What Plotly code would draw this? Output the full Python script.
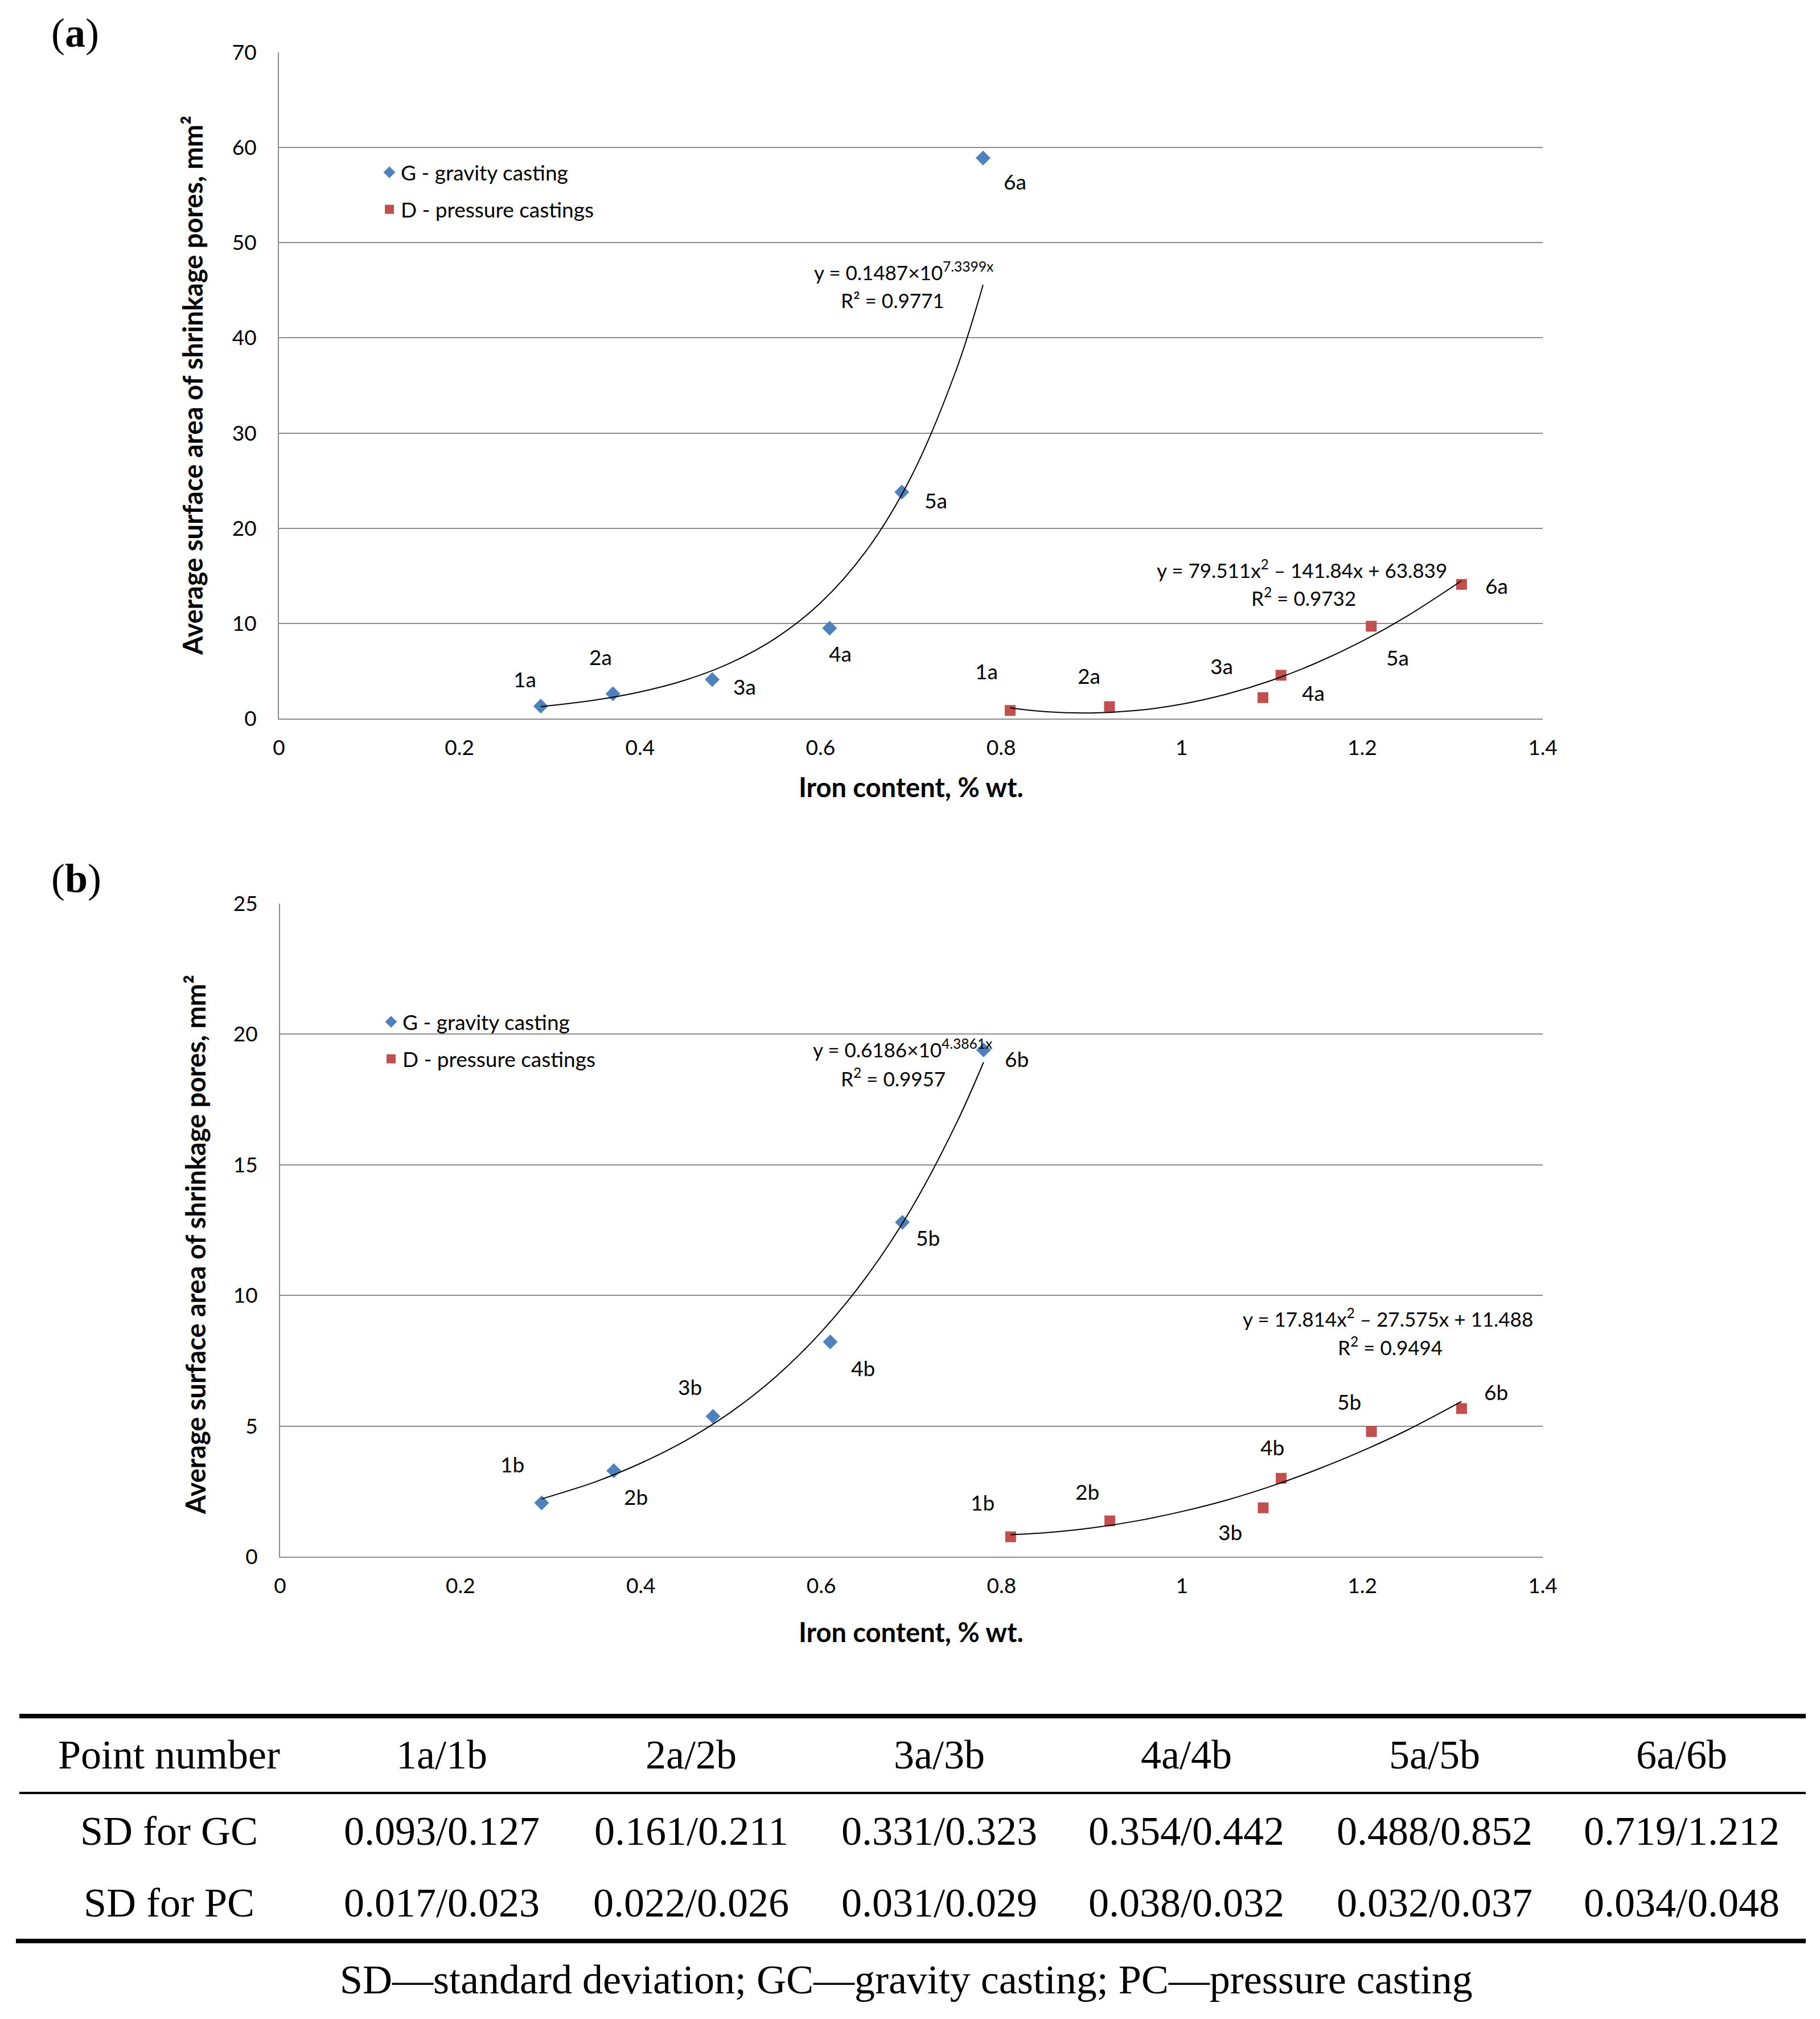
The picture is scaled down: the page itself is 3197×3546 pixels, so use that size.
#!/usr/bin/env python3
"""Shrinkage pore area vs. iron content, two panels plus SD table."""

import plotly.graph_objects as go
from plotly.subplots import make_subplots

W, H = 3197, 3546
PAGE_OFFSET = 8  # browser body margin

# ---- data -------------------------------------------------------------
IRON_G = [0.29, 0.37, 0.48, 0.61, 0.69, 0.78]
IRON_D = [0.81, 0.92, 1.09, 1.11, 1.21, 1.31]

AREA_A_G = [1.3, 2.6, 4.1, 9.5, 23.8, 58.9]
AREA_A_D = [0.85, 1.25, 2.2, 4.55, 9.7, 14.1]
AREA_B_G = [2.06, 3.29, 5.37, 8.22, 12.8, 19.4]
AREA_B_D = [0.76, 1.37, 1.87, 3.0, 4.79, 5.67]

LABELS_A = ['1a', '2a', '3a', '4a', '5a', '6a']
LABELS_B = ['1b', '2b', '3b', '4b', '5b', '6b']

# trendlines
TREND_X_G = [0.29, 0.35, 0.40, 0.45, 0.50, 0.55, 0.60, 0.65, 0.70, 0.75, 0.78]
TREND_X_D = [0.81, 0.85, 0.90, 0.95, 1.00, 1.05, 1.10, 1.15, 1.20, 1.25, 1.31]
TREND_A_G = [1.25, 1.94, 2.80, 4.04, 5.84, 8.43, 12.16, 17.55, 25.34, 36.57, 45.57]
TREND_A_D = [1.12, 0.72, 0.59, 0.85, 1.51, 2.57, 4.02, 5.88, 8.13, 10.78, 14.48]
TREND_B_G = [2.21, 2.87, 3.58, 4.45, 5.54, 6.90, 8.60, 10.71, 13.33, 16.60, 18.93]
TREND_B_D = [0.84, 0.92, 1.10, 1.37, 1.73, 2.17, 2.71, 3.34, 4.05, 4.85, 5.94]

EQ_A_G = ['y = 0.1487×10<sup>7.3399x</sup>', 'R² = 0.9771']
EQ_A_D = ['y = 79.511x<sup>2</sup> – 141.84x + 63.839', 'R<sup>2</sup> = 0.9732']
EQ_B_G = ['y = 0.6186×10<sup>4.3861x</sup>', 'R<sup>2</sup> = 0.9957']
EQ_B_D = ['y = 17.814x<sup>2</sup> – 27.575x + 11.488', 'R<sup>2</sup> = 0.9494']

X_TITLE = 'Iron content, % wt.'
Y_TITLE = 'Average surface area of shrinkage pores, mm²'

TABLE_HEADER = ['Point number', '1a/1b', '2a/2b', '3a/3b', '4a/4b', '5a/5b', '6a/6b']
SD_GC = ['SD for GC', '0.093/0.127', '0.161/0.211', '0.331/0.323', '0.354/0.442',
         '0.488/0.852', '0.719/1.212']
SD_PC = ['SD for PC', '0.017/0.023', '0.022/0.026', '0.031/0.029', '0.038/0.032',
         '0.032/0.037', '0.034/0.048']
FOOTNOTE = 'SD—standard deviation; GC—gravity casting; PC—pressure casting'

# ---- styling ----------------------------------------------------------
BLUE = '#4f81bd'
RED = '#c0504d'
GRID = '#8c8c8c'
SANS = 'Lato, Carlito, Calibri, sans-serif'
SERIF = 'Liberation Serif, Times New Roman, serif'
FS = 37
EQ_FS = 35
TITLE_FS = 47
TABLE_FS = 72

# pixel offsets of the point labels relative to their points
SHIFT_A_G = [(-28, 48), (-22, 65), (57, -12), (19, -44), (60, -14), (56, -41)]
SHIFT_A_D = [(-41, 69), (-36, 55), (-72, 56), (57, -31), (46, -55), (62, -2)]
SHIFT_B_G = [(-51, 68), (39, -45), (-40, 52), (58, -46), (45, -27), (58, -16)]
SHIFT_B_D = [(-49, 61), (-40, 52), (-58, -42), (-16, 55), (-39, 53), (61, 29)]


def px_x(p):
    return (p - PAGE_OFFSET) / W


def px_y(p):
    return 1 - (p - PAGE_OFFSET) / H


fig = make_subplots(rows=2, cols=1)


def add_panel(row, g_vals, d_vals, tg, td, legend):
    fig.add_trace(go.Scatter(
        x=IRON_G, y=g_vals, mode='markers', name='G - gravity casting',
        marker=dict(symbol='diamond', size=20, color=BLUE),
        legend=legend, legendgroup=legend + 'g',
    ), row=row, col=1)
    fig.add_trace(go.Scatter(
        x=IRON_D, y=d_vals, mode='markers', name='D - pressure castings',
        marker=dict(symbol='square', size=19, color=RED),
        legend=legend, legendgroup=legend + 'd',
    ), row=row, col=1)
    fig.add_trace(go.Scatter(
        x=TREND_X_G, y=tg, mode='lines', line=dict(color='black', width=2, shape='spline'),
        showlegend=False, hoverinfo='skip',
    ), row=row, col=1)
    fig.add_trace(go.Scatter(
        x=TREND_X_D, y=td, mode='lines', line=dict(color='black', width=2, shape='spline'),
        showlegend=False, hoverinfo='skip',
    ), row=row, col=1)


add_panel(1, AREA_A_G, AREA_A_D, TREND_A_G, TREND_A_D, 'legend')
add_panel(2, AREA_B_G, AREA_B_D, TREND_B_G, TREND_B_D, 'legend2')

annotations = []


def point_labels(xref, yref, xs, ys, labels, shifts):
    for x, y, t, (dx, dy) in zip(xs, ys, labels, shifts):
        annotations.append(dict(
            x=x, y=y, xref=xref, yref=yref, text=t, showarrow=False,
            xshift=dx, yshift=dy, font=dict(family=SANS, size=FS, color='black'),
        ))


point_labels('x', 'y', IRON_G, AREA_A_G, LABELS_A, SHIFT_A_G)
point_labels('x', 'y', IRON_D, AREA_A_D, LABELS_A, SHIFT_A_D)
point_labels('x2', 'y2', IRON_G, AREA_B_G, LABELS_B, SHIFT_B_G)
point_labels('x2', 'y2', IRON_D, AREA_B_D, LABELS_B, SHIFT_B_D)


def equation(xref, yref, lines, pos):
    for t, (x, y) in zip(lines, pos):
        annotations.append(dict(
            x=x, y=y, xref=xref, yref=yref, text=t, showarrow=False,
            font=dict(family=SANS, size=EQ_FS, color='black'),
        ))


equation('x', 'y', EQ_A_G, [(0.692, 47.0), (0.680, 44.0)])
equation('x', 'y', EQ_A_D, [(1.133, 15.75), (1.135, 12.8)])
equation('x2', 'y2', EQ_B_G, [(0.690, 19.47), (0.680, 18.35)])
equation('x2', 'y2', EQ_B_D, [(1.228, 9.15), (1.231, 8.06)])

# axis titles
title_font = dict(family=SANS, size=TITLE_FS, color='black', weight='bold')
for xpx, ypx in [(1600, 1382), (1600, 2866)]:
    annotations.append(dict(
        x=px_x(xpx), y=px_y(ypx), xref='paper', yref='paper', text=X_TITLE,
        showarrow=False, xanchor='center', yanchor='middle', font=title_font,
    ))
for xpx, ypx in [(338, 677), (343, 2186)]:
    annotations.append(dict(
        x=px_x(xpx), y=px_y(ypx), xref='paper', yref='paper', text=Y_TITLE,
        showarrow=False, xanchor='center', yanchor='middle', textangle=-90,
        font=title_font,
    ))

# panel letters
for txt, ypx in [('(<b>a</b>)', 58), ('(<b>b</b>)', 1543)]:
    annotations.append(dict(
        x=px_x(88), y=px_y(ypx), xref='paper', yref='paper', text=txt,
        showarrow=False, xanchor='left', yanchor='middle',
        font=dict(family=SERIF, size=72, color='black'),
    ))

# table below the charts
COL_X = [297, 776, 1214, 1650, 2084, 2520, 2954]
ROW_Y = [3082, 3216, 3342]
for row_vals, ypx in zip([TABLE_HEADER, SD_GC, SD_PC], ROW_Y):
    for txt, xpx in zip(row_vals, COL_X):
        annotations.append(dict(
            x=px_x(xpx), y=px_y(ypx), xref='paper', yref='paper', text=txt,
            showarrow=False, xanchor='center', yanchor='middle',
            font=dict(family=SERIF, size=TABLE_FS, color='black'),
        ))
annotations.append(dict(
    x=px_x(1592), y=px_y(3477), xref='paper', yref='paper', text=FOOTNOTE,
    showarrow=False, xanchor='center', yanchor='middle',
    font=dict(family=SERIF, size=TABLE_FS, color='black'),
))

shapes = []
for ypx, lw, x0 in [(3014, 8, 34), (3149, 4, 34), (3409, 8, 28)]:
    shapes.append(dict(
        type='line', xref='paper', yref='paper',
        x0=px_x(x0), x1=px_x(3172), y0=px_y(ypx), y1=px_y(ypx),
        line=dict(color='black', width=lw),
    ))

axis_font = dict(family=SANS, size=FS, color='black')

fig.update_xaxes(
    range=[0, 1.4], dtick=0.2, showgrid=False, zeroline=False,
    showline=True, linecolor=GRID, linewidth=2, ticks='',
    tickfont=axis_font, ticklabelstandoff=18, automargin=False,
)
fig.update_yaxes(
    showgrid=True, gridcolor=GRID, gridwidth=2, zeroline=False,
    showline=True, linecolor=GRID, linewidth=2, ticks='',
    tickfont=axis_font, ticklabelstandoff=30, automargin=False,
)
fig.update_layout(
    xaxis=dict(domain=[px_x(490), px_x(2710)]),
    xaxis2=dict(domain=[px_x(492), px_x(2710)]),
    yaxis=dict(domain=[px_y(1262), px_y(92)], range=[0, 70], dtick=10),
    yaxis2=dict(domain=[px_y(2734), px_y(1587)], range=[0, 25], dtick=5),
)

legend_style = dict(
    font=dict(family=SANS, size=FS, color='black'),
    bgcolor='rgba(0,0,0,0)', tracegroupgap=14,
    xanchor='left', yanchor='top', itemclick=False,
)
fig.update_layout(
    width=W, height=H,
    margin=dict(l=0, r=0, t=0, b=0, autoexpand=False),
    paper_bgcolor='white', plot_bgcolor='white',
    showlegend=True,
    legend=dict(x=px_x(664), y=px_y(272), **legend_style),
    legend2=dict(x=px_x(667), y=px_y(1764), **legend_style),
    annotations=annotations,
    shapes=shapes,
)

fig.write_html('out.html')
